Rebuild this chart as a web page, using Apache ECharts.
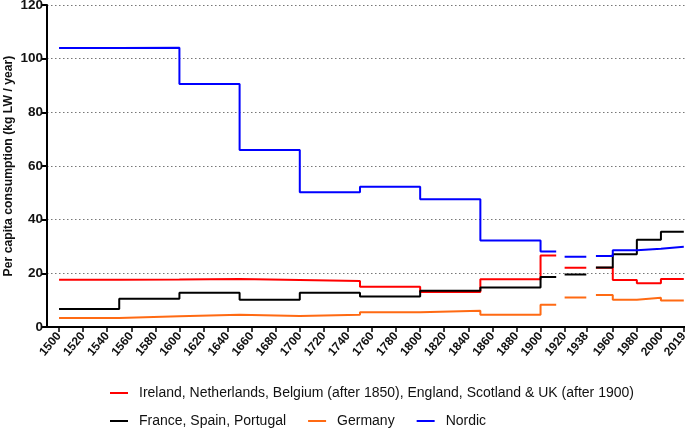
<!DOCTYPE html>
<html>
<head>
<meta charset="utf-8">
<script src="https://cdn.jsdelivr.net/npm/echarts@6/dist/echarts.min.js"></script>
<style>
html,body{margin:0;padding:0;background:#fff;}
#chart{width:685px;height:428px;}
</style>
</head>
<body>
<div id="chart"></div>
<script>
// Periods (start / end year) and per-capita consumption values (kg LW / year)
const periodStart = [1500, 1550, 1600, 1650, 1700, 1750, 1800, 1850, 1900, 1920, 1946, 1960, 1980, 2000];
const periodEnd   = [1550, 1600, 1650, 1700, 1750, 1800, 1850, 1900, 1913, 1938, 1960, 1980, 2000, 2019];
const redValues    = [17.6, 17.7, 17.9, 17.5, 17.1, 15.0, 13.0, 17.8, 26.6, 22.1, 22.1, 17.5, 16.3, 17.9];
const blackValues  = [6.7, 10.5, 12.8, 10.2, 12.8, 11.4, 13.5, 14.7, 18.6, 19.6, 22.2, 27.1, 32.5, 35.5];
const orangeValues = [3.4, 4.0, 4.6, 4.1, 4.6, 5.5, 6.1, 4.6, 8.3, 11.0, 11.9, 10.2, 10.9, 9.9];
const blueValues   = [104.0, 104.1, 90.6, 66.0, 50.2, 52.3, 47.6, 32.2, 28.1, 26.2, 26.5, 28.6, 29.2, 29.9];
const xTickLabels = [1500,1520,1540,1560,1580,1600,1620,1640,1660,1680,1700,1720,1740,1760,1780,1800,1820,1840,1860,1880,1900,1920,1938,1960,1980,2000,2019];
const seriesNames = [
  'Ireland, Netherlands, Belgium (after 1850), England, Scotland & UK (after 1900)',
  'France, Spain, Portugal',
  'Germany',
  'Nordic'
];

function buildSteps(values) {
  const pts = [];
  for (let i = 0; i < values.length; i++) {
    if (i > 0 && periodStart[i] !== periodEnd[i - 1]) {
      pts.push([(periodStart[i] + periodEnd[i - 1]) / 2, null]);
    }
    pts.push([periodStart[i], values[i]]);
    pts.push([periodEnd[i], values[i]]);
  }
  return pts;
}

const colors = ['#ff0000', '#000000', '#ff6a13', '#0000ff'];
const allValues = [redValues, blackValues, orangeValues, blueValues];
const FONT = 'Arial, "Liberation Sans", sans-serif';

const legendText = {fontFamily: FONT, fontSize: 14, color: '#111', padding: [0, 0, 0, 6]};
const chart = echarts.init(document.getElementById('chart'));
chart.setOption({
  animation: false,
  grid: {left: 47, right: 0, top: 5, bottom: 101, outerBoundsMode: 'none', containLabel: false},
  legend: [
    {data: [seriesNames[0]], left: 105, top: 381, icon: 'rect', itemWidth: 18, itemHeight: 2,
     textStyle: legendText},
    {data: [seriesNames[1], seriesNames[2], seriesNames[3]], left: 105, top: 409, icon: 'rect',
     itemWidth: 18, itemHeight: 2, itemGap: 22, textStyle: legendText}
  ],
  xAxis: {
    type: 'value', min: 1490, max: 2020,
    splitLine: {show: false},
    axisLine: {lineStyle: {color: '#000', width: 2}},
    axisTick: {customValues: xTickLabels, length: 5, lineStyle: {color: '#000', width: 1.5}},
    axisLabel: {customValues: xTickLabels, rotate: 50, margin: 7, formatter: v => String(v),
      fontFamily: FONT, fontWeight: 'bold', fontSize: 12, color: '#111'}
  },
  yAxis: {
    type: 'value', min: 0, max: 120, interval: 20,
    name: 'Per capita consumption (kg LW / year)', nameLocation: 'middle', nameGap: 32,
    nameMoveOverlap: false,
    nameTextStyle: {fontFamily: FONT, fontWeight: 'bold', fontSize: 12.2, color: '#111'},
    axisLine: {show: true, lineStyle: {color: '#000', width: 2}},
    axisTick: {show: true, length: 5, lineStyle: {color: '#000', width: 2}},
    axisLabel: {fontFamily: FONT, fontWeight: 'bold', fontSize: 13.5, color: '#111', margin: 4},
    splitLine: {show: true, lineStyle: {color: '#777', type: [1.5, 2.5], width: 1}}
  },
  series: allValues.map((vals, i) => ({
    name: seriesNames[i], type: 'line', data: buildSteps(vals),
    showSymbol: false, symbol: 'none', connectNulls: false,
    lineStyle: {color: colors[i], width: 2}, itemStyle: {color: colors[i]},
    z: 2 + i
  }))
});
</script>
</body>
</html>
